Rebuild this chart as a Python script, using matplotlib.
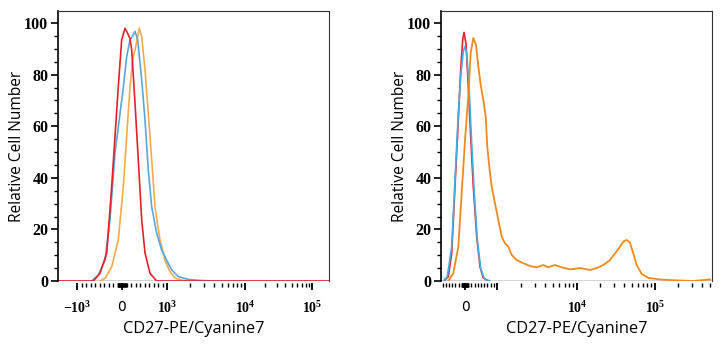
import matplotlib.pyplot as plt
import numpy as np

plt.rcParams['mathtext.fontset'] = 'custom'
plt.rcParams['mathtext.rm'] = 'Liberation Serif:bold'
plt.rcParams['mathtext.bf'] = 'Liberation Serif:bold'
plt.rcParams['mathtext.it'] = 'Liberation Serif:bold'

# ---- data (fluorescence value, relative cell number) ----
# left panel
red1_x = [-2100, -638, -489, -340, -229, -156, -82, -7, 67, 127, 178, 216, 289, 362, 438, 511, 622, 771, 180000]
red1_y = [0, 0, 3, 10.7, 36.6, 56, 75.4, 93.5, 98, 96, 94, 89.6, 69, 47, 23.7, 10.9, 3, 0, 0]
blue1_x = [-673, -527, -378, -267, -156, -44, 29, 104, 178, 229, 289, 349, 438, 511, 584, 660,
           771, 882, 993, 1149, 1397, 1875, 2785, 4000]
blue1_y = [0, 2.3, 8, 23.7, 49.5, 65, 75, 87, 93.5, 94.8, 96.8, 93.5, 78, 62.5, 43, 28.8,
           18.5, 12, 8, 4.3, 1.7, 0.6, 0.2, 0]
orange1_x = [-489, -378, -229, -82, 29, 104, 178, 238, 289, 349, 384, 438, 511, 584, 660, 733,
             844, 956, 1093, 1266, 1541, 2000]
orange1_y = [0, 1, 5.5, 16, 36.6, 56, 75.4, 85.8, 89.6, 94.8, 98, 94.8, 82, 65, 47, 28.8,
             16, 8, 3.6, 1.2, 0.3, 0]

# right panel
red2_x = [-656, -522, -416, -313, -209, -134, -72, -31, 31, 103, 178, 259, 366, 469, 572, 728]
red2_y = [0, 1.7, 10.7, 36.6, 62.5, 82, 93.5, 96.4, 92, 75.4, 56, 36.6, 17.2, 5.5, 1.2, 0]
blue2_x = [-678, -553, -416, -313, -209, -125, -53, 0, 53, 125, 209, 291, 384, 491, 603, 781]
blue2_y = [0, 1.7, 13.3, 39, 65, 80.6, 89, 91, 88.4, 75.4, 53.4, 34, 16, 4.9, 0.9, 0]
orange2_x = [-522, -366, -209, -103, 0, 103, 178, 259, 344, 416, 491, 572, 647, 697, 759, 834,
             938, 1038, 1145, 1259, 1384, 1527, 1763, 2131, 2585, 3133, 3793, 4377, 5309, 6437,
             8175, 10925, 14678, 17910, 21740, 26480, 30700, 35560, 39260, 43350, 47760, 52720,
             58240, 67570, 82080, 115900, 171900, 309700, 507000]
orange2_y = [0, 3, 13.3, 34, 54.7, 71.5, 88.4, 94.2, 91.6, 83.2, 76, 70.2, 63.8, 52, 44.4, 36.6,
             30.1, 23.7, 17.2, 14.6, 13.3, 10.1, 8.1, 6.9, 5.8, 5.3, 6.2, 5.3, 6.2, 5.3,
             4.5, 5, 4.3, 5, 6.2, 8.1, 10.7, 13.3, 15.3, 15.9, 14.9, 10.7,
             6.2, 2.7, 1.2, 0.6, 0.3, 0, 0.6]

major1 = [-1000, 0, 1000, 10000, 100000]
major1_labels = [r'$-10^{3}$', '0', r'$10^{3}$', r'$10^{4}$', r'$10^{5}$']
major2 = [0, 1000, 10000, 100000]
major2_labels = ['0', '', r'$10^{4}$', r'$10^{5}$']


def to_h(x):
    x = np.asarray(x, float)
    a = np.abs(x)
    return np.where(a <= 1000, x / 1000, np.sign(x) * (1 + np.log10(np.maximum(a, 1000) / 1000)))


def from_h(v):
    v = np.asarray(v, float)
    a = np.abs(v)
    return np.where(a <= 1, v * 1000, np.sign(v) * 1000 * 10 ** (np.maximum(a, 1) - 1))


def biex(pix):
    H = np.array([-3, -1, 0, 1, 2, 3, 5.0])
    P = np.array(pix, float)
    fwd = lambda x: np.interp(to_h(x), H, P)
    inv = lambda p: from_h(np.interp(p, P, H))
    return fwd, inv


W, Hf = 724, 350
fig = plt.figure(figsize=(7.24, 3.5), dpi=100)
ax1 = fig.add_axes([58 / W, 69 / Hf, 271 / W, 270 / Hf])
ax2 = fig.add_axes([441 / W, 69 / Hf, 271 / W, 270 / Hf])

f1, i1 = biex([-43, 77, 122, 167, 245, 312, 446])
f2, i2 = biex([273, 433, 465, 497, 577, 655, 811])

ax1.set_xscale('function', functions=(f1, i1))
ax2.set_xscale('function', functions=(f2, i2))

ax1.plot(orange1_x, orange1_y, color='#f7aa4c', lw=1.2)
ax1.plot(blue1_x, blue1_y, color='#5aa6da', lw=1.2)
ax1.plot(red1_x, red1_y, color='#e5202a', lw=1.2)

ax2.plot(red2_x, red2_y, color='#e8202a', lw=1.2)
ax2.plot(blue2_x, blue2_y, color='#3fb1e5', lw=1.2)
ax2.plot(orange2_x, orange2_y, color='#f08a1c', lw=1.3)

ax1.set_xlim(i1(58), i1(329))
ax2.set_xlim(i2(441), i2(712))

lin = list(range(-90, 100, 10))
minor1 = list(range(-900, 0, 100)) + lin + list(range(100, 1000, 100)) \
    + [k * 1000 for k in range(2, 10)] + [k * 10000 for k in range(2, 10)]
minor2 = list(range(-700, 0, 100)) + lin + list(range(100, 1000, 100)) \
    + [k * 1000 for k in range(2, 10)] + [k * 10000 for k in range(2, 10)] \
    + [k * 100000 for k in range(2, 6)]

for ax, maj, labs, mnr in [(ax1, major1, major1_labels, minor1), (ax2, major2, major2_labels, minor2)]:
    ax.set_ylim(0, 104.7)
    ax.set_yticks([0, 20, 40, 60, 80, 100])
    ax.set_yticks([v for v in range(5, 105, 5) if v % 20], minor=True)
    ax.set_yticklabels(['0', '20', '40', '60', '80', '100'], family='Liberation Serif',
                       fontweight='bold', fontsize=11.5)
    ax.set_xticks(maj)
    ax.set_xticks(mnr, minor=True)
    ax.set_xticklabels(labs, family='Liberation Serif', fontweight='bold', fontsize=12,
                       ha='left', va='baseline')
    ax.tick_params(axis='y', which='major', length=5, width=1.2, pad=2)
    ax.tick_params(axis='y', which='minor', length=3, width=1)
    ax.tick_params(axis='x', which='major', length=5, width=1.3, pad=7)
    ax.tick_params(axis='x', which='minor', length=3, width=1)
    ax.spines['bottom'].set_position(('outward', 1.5))
    ax.spines['bottom'].set_visible(False)
    ax.axhline(0, color='#222222', lw=1, zorder=0.5)
    ax.spines['left'].set_linewidth(1.2)
    ax.spines['top'].set_linewidth(0.8)
    ax.spines['right'].set_linewidth(0.8)
    ax.spines['top'].set_color('#333333')
    ax.spines['right'].set_color('#333333')
    ax.set_ylabel('Relative Cell Number', family='Open Sans', fontsize=11.2, labelpad=-0.5)
    ax.set_xlabel('CD27-PE/Cyanine7', family='Open Sans', fontsize=11.8, labelpad=4)

fig.savefig('out.png', dpi=100)
